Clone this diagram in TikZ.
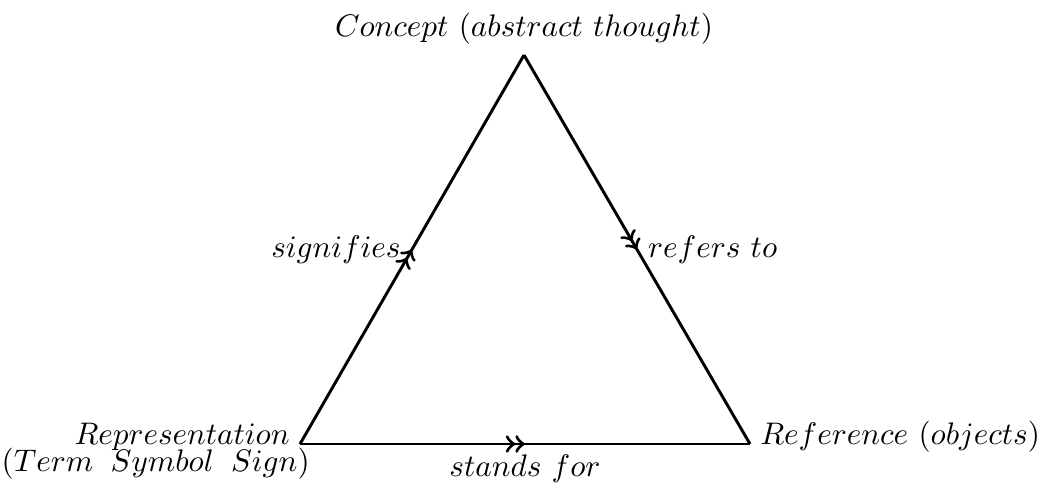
\documentclass[tikz,border=0pt]{standalone}
\usetikzlibrary{decorations.markings}
\begin{document}
\begin{tikzpicture}[x=0.3413pt,y=0.3413pt,
  edge/.style={line width=1pt,postaction={decorate},
    decoration={markings,mark=at position 0.5 with {\arrow[scale=1.1]{>>}}}},
  lbl/.style={inner sep=3.1pt,scale=1.065}]
\useasboundingbox (0,0) rectangle (1049,488);
\coordinate (A) at (300,44);
\coordinate (B) at (750,44);
\coordinate (C) at (524,433);
\draw[edge] (A) -- node[lbl,left] (sig) {$signifies$} (C);
\draw[edge] (C) -- node[lbl,right] (ref) {$refers\ to$} (B);
\draw[edge] (A) -- node[lbl,below] (st) {$stands\ for$} (B);
\node[lbl,above] (con) at (C) {$Concept\ (abstract\ thought)$};
\node[lbl,inner ysep=0pt,anchor=base east] (rep) at (A) {$Representation$};
\node[lbl,inner ysep=0pt,anchor=base east] (term) at (320,17) {$(Term\ \:Symbol\ \:Sign)$};
\node[lbl,anchor=base west] (obj) at (B) {$Reference\ (objects)$};
\end{tikzpicture}
\end{document}
